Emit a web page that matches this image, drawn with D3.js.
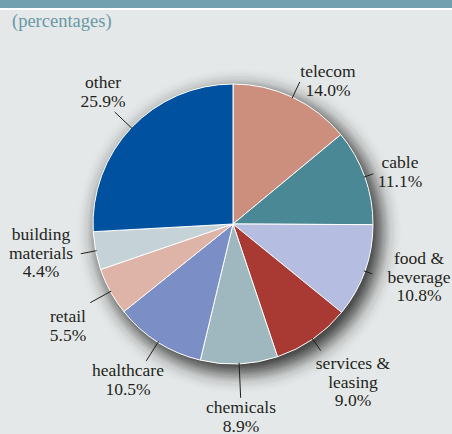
<!DOCTYPE html>
<html>
<head>
<meta charset="utf-8">
<style>
  body { margin: 0; background: #e5e8e8; }
  svg { display: block; }
  .lbl { font-family: "Liberation Serif", "Times New Roman", serif; font-size: 17.5px; fill: #231f20; }
</style>
</head>
<body>
<svg id="chart" width="452" height="434"></svg>
<script src="https://cdn.jsdelivr.net/npm/d3@7"></script>
<script>
// data
var categories = ["telecom", "cable", "food & beverage", "services & leasing", "chemicals", "healthcare", "retail", "building materials", "other"];
var values = [14.0, 11.1, 10.8, 9.0, 8.9, 10.5, 5.5, 4.4, 25.9];
var labelLines = [["telecom"], ["cable"], ["food &", "beverage"], ["services &", "leasing"], ["chemicals"], ["healthcare"], ["retail"], ["building", "materials"], ["other"]];
var colors = ["#cc8f7e", "#4a8896", "#b5bde0", "#a83a33", "#9fb7be", "#7b8ec5", "#dfb4a8", "#c5d3d8", "#0052a0"];

// label layout: leader outer radius, text centre x, first baseline y
var layout = [
  [157, 328, 77], [149, 400, 168], [148, 419, 264], [154, 353, 369], [174, 241, 413],
  [162, 128, 376], [163, 68, 322], [155, 41, 240], [163, 103, 88]
];

var W = 452, H = 434, cx = 233, cy = 224, R = 140;
var svg = d3.select("#chart");

svg.append("rect").attr("width", W).attr("height", H).attr("fill", "#e5e8e8");
svg.append("rect").attr("width", W).attr("height", 8).attr("fill", "#72a0ae");
svg.append("rect").attr("y", 8).attr("width", W).attr("height", 2).attr("fill", "#ffffff");

svg.append("text").attr("x", 12).attr("y", 27)
  .attr("font-family", "Liberation Serif, Times New Roman, serif").attr("font-size", 18.5)
  .attr("fill", "#6a98a6").text("(percentages)");

var defs = svg.append("defs");
var f = defs.append("filter").attr("id", "shadow")
  .attr("x", "-30%").attr("y", "-30%").attr("width", "160%").attr("height", "160%");
f.append("feGaussianBlur").attr("stdDeviation", 9);

var g = svg.append("g").attr("transform", "translate(" + cx + "," + cy + ")");

g.append("circle").attr("cx", 6).attr("cy", 7).attr("r", R + 3)
  .attr("fill", "#222222").attr("opacity", 0.9).attr("filter", "url(#shadow)");

var pie = d3.pie().sort(null).value(function (d) { return d; });
var arc = d3.arc().innerRadius(0).outerRadius(R);
var arcs = pie(values);

g.selectAll("path.slice").data(arcs).enter().append("path")
  .attr("class", "slice")
  .attr("d", arc)
  .attr("fill", function (d, i) { return colors[i]; })
  .attr("stroke", "#ffffff").attr("stroke-width", 1);

// leader lines
function pt(a, r) { return [r * Math.sin(a), -r * Math.cos(a)]; }
g.selectAll("line.leader").data(arcs).enter().append("line")
  .attr("class", "leader")
  .each(function (d, i) {
    var a = (d.startAngle + d.endAngle) / 2;
    var p0 = pt(a, R - 1), p1 = pt(a, layout[i][0]);
    d3.select(this).attr("x1", p0[0]).attr("y1", p0[1]).attr("x2", p1[0]).attr("y2", p1[1]);
  })
  .attr("stroke", "#231f20").attr("stroke-width", 1);

// labels
categories.forEach(function (c, i) {
  var lines = labelLines[i].concat([d3.format(".1f")(values[i]) + "%"]);
  var t = svg.append("text").attr("class", "lbl").attr("text-anchor", "middle");
  lines.forEach(function (s, k) {
    t.append("tspan").attr("x", layout[i][1]).attr("y", layout[i][2] + k * 18.5).text(s);
  });
});
</script>
</body>
</html>
